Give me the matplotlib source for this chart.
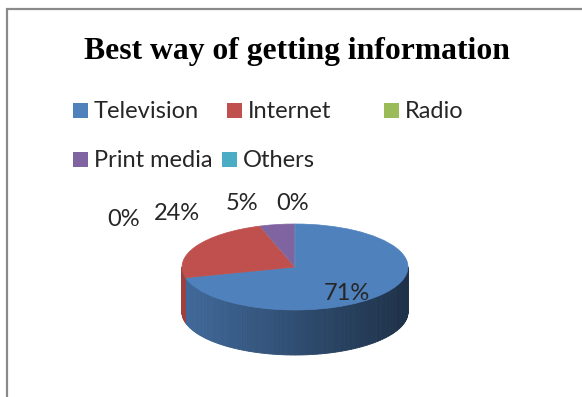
import numpy as np
import matplotlib
matplotlib.use("Agg")
import matplotlib.pyplot as plt
from matplotlib.patches import Rectangle
from matplotlib.collections import PolyCollection
from matplotlib.colors import to_rgb

# data
categories = ["Television", "Internet", "Radio", "Print media", "Others"]
values = [71, 24, 0, 5, 0]
colors = ["#4F81BD", "#C0504D", "#9BBB59", "#8064A2", "#4BACC6"]
title = "Best way of getting information"

W, H = 582, 397
fig = plt.figure(figsize=(W / 100, H / 100), dpi=100)

# pie axes: x unit = 113 px, y unit = 43 px, centre at (295, 267) px
cx, cy, ra, rb, depth_px = 295, 267, 113, 43, 45
ax = fig.add_axes([0, 0, 1, 1])
wedges, _ = ax.pie(values, colors=colors, startangle=90, counterclock=False,
                   radius=1, wedgeprops=dict(linewidth=0.5))
for w, c in zip(wedges, colors):
    w.set_edgecolor(c)
    w.set_zorder(3)
ax.set_aspect("auto")
ax.set_xlim(-cx / ra, (W - cx) / ra)
ax.set_ylim((cy - H) / rb, cy / rb)
ax.axis("off")

# side wall of the 3d pie (only the front half shows)
depth = depth_px / rb
frac = np.array(values, dtype=float) / sum(values)
edges = np.concatenate([[0], np.cumsum(frac)])
polys, pcols = [], []
for i, c in enumerate(colors):
    t_start = 90 - 360 * edges[i]
    t_end = 90 - 360 * edges[i + 1]
    if t_start == t_end:
        continue
    ts = np.radians(np.linspace(t_end, t_start, 200))
    base = np.array(to_rgb(c))
    for t1, t2 in zip(ts[:-1], ts[1:]):
        tm = (t1 + t2) / 2
        if np.sin(tm) >= 0:
            continue
        x1, x2 = np.cos(t1), np.cos(t2)
        y1, y2 = np.sin(t1), np.sin(t2)
        polys.append([(x1, y1), (x2, y2), (x2, y2 - depth), (x1, y1 - depth)])
        f = 0.6 - 0.22 * np.cos(tm)
        pcols.append(np.clip(base * f, 0, 1))
side = PolyCollection(polys, facecolors=pcols, edgecolors=pcols, linewidths=0.6, zorder=2)
ax.add_collection(side)

# overlay in pixel coordinates for text and frame
ov = fig.add_axes([0, 0, 1, 1])
ov.set_xlim(0, W)
ov.set_ylim(H, 0)
ov.axis("off")
ov.patch.set_alpha(0)

ov.plot([7, 7], [8, H + 5], color="#8a8a8a", lw=1.6, solid_capstyle="butt")
ov.plot([6, W + 5], [8.5, 8.5], color="#8a8a8a", lw=1.6, solid_capstyle="butt")

ov.text(297, 59, title, family="Liberation Serif", weight="bold", fontsize=22.8,
        ha="center", va="baseline", color="black")

# legend, laid out like the Excel grid
leg_x = [73, 227, 384, 73, 222]
leg_y = [118, 118, 118, 167, 167]
for name, c, lx, ly in zip(categories, colors, leg_x, leg_y):
    ov.add_patch(Rectangle((lx, ly - 15), 14.5, 14.5, facecolor=c, edgecolor="none"))
    ov.text(lx + 21, ly, name, family="Lato", fontsize=17, ha="left", va="baseline",
            color="#262626")

# data labels
lab_pos = [(347, 294), (177, 214), (124, 220), (242, 203), (293, 203)]
for v, (lx, ly) in zip(values, lab_pos):
    ov.text(lx, ly, f"{v}%", family="Lato", fontsize=17, ha="center", va="center",
            color="#262626")

fig.savefig("out.png", dpi=100)
